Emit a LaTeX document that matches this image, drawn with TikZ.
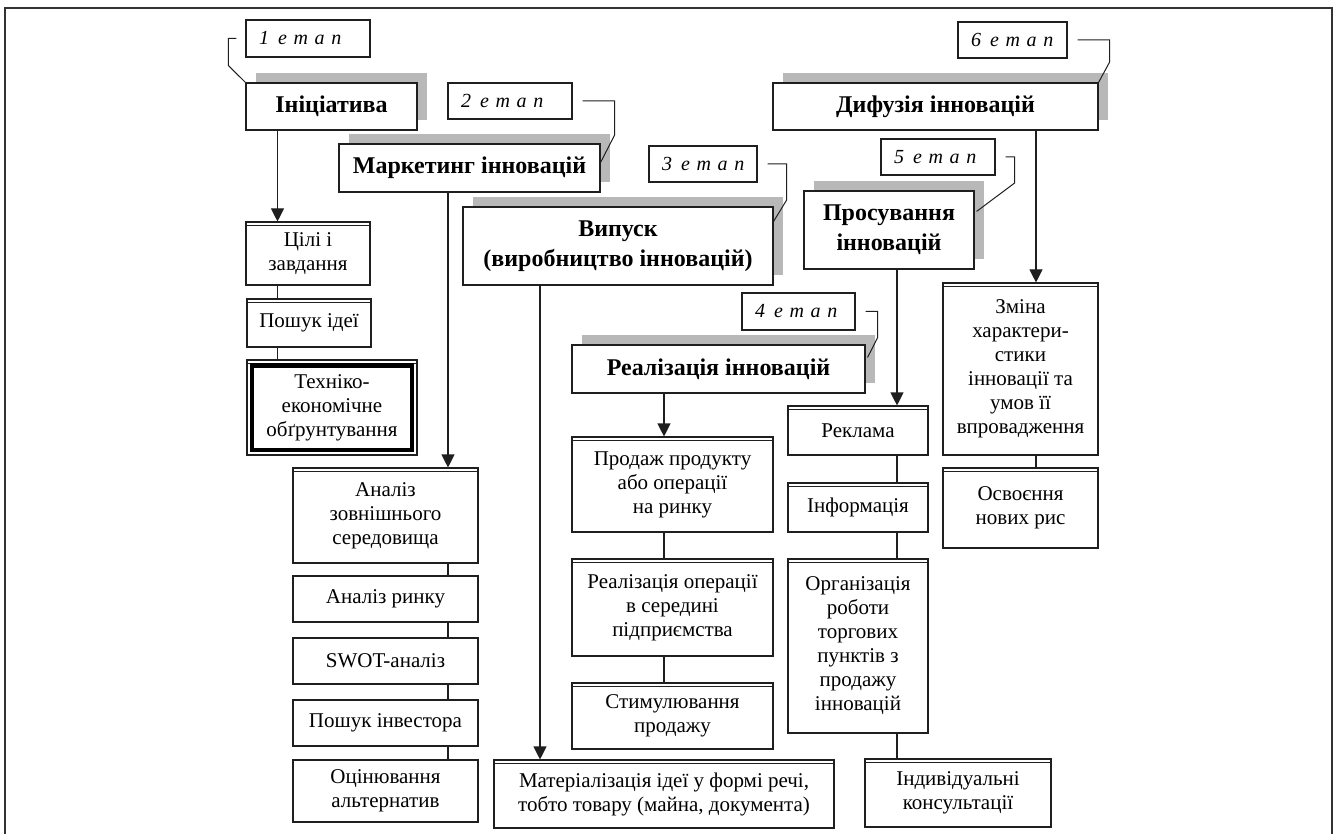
\documentclass[tikz,border=0pt]{standalone}
\usepackage{fontspec}
\setmainfont{Liberation Serif}
\usetikzlibrary{arrows.meta,shadows,calc}
\definecolor{shadegray}{gray}{0.72}
\definecolor{ink}{gray}{0.12}
\tikzset{
  box/.style={draw=ink, line width=1.1pt, fill=white, inner sep=0pt, align=center,
    font=\fontsize{21}{24}\selectfont},
  stage/.style={box, font=\fontsize{24}{30}\selectfont\bfseries,
    drop shadow={shadow xshift=10pt, shadow yshift=10pt, fill=shadegray, opacity=1}},
  etap/.style={draw=ink, line width=1.3pt, fill=white, inner ysep=0pt, inner xsep=13pt,
    align=left, font=\fontsize{20}{24}\selectfont\itshape},
  dtop/.style={path picture={\draw[line width=1pt,ink]
    ([yshift=-3.5pt]path picture bounding box.north west) --
    ([yshift=-3.5pt]path picture bounding box.north east);}},
  conn/.style={draw=ink, line width=1.1pt},
  arr/.style={conn, -{Triangle[length=13pt,width=13pt]}},
  brk/.style={draw=ink, line width=1pt},
}
\newcommand\Bx[7][]{%
  \pgfmathsetmacro\bw{#5-#3}%
  \pgfmathsetmacro\bh{#6-#4}%
  \node[box,#1,minimum width=\bw pt,minimum height=\bh pt] (#2) at ({(#3+#5)/2},{(#4+#6)/2}) {#7};}
\newcommand\Et[6]{%
  \pgfmathsetmacro\bw{#4-#2}%
  \pgfmathsetmacro\tw{#4-#2-26}%
  \pgfmathsetmacro\bh{#5-#3}%
  \node[etap,minimum width=\bw pt,text width=\tw pt,minimum height=\bh pt] (#1) at ({(#2+#4)/2},{(#3+#5)/2}) {\mbox{#6}};}
\begin{document}
\begin{tikzpicture}[x=1pt,y=-1pt]
\useasboundingbox (0,0) rectangle (1336,834);
\fill[white] (0,0) rectangle (1336,834);
\draw[line width=2.5pt, black!80] (5,850) -- (5,8) -- (1332,8) -- (1332,850);

% stage boxes
\Bx[stage]{ini}{246}{83}{417}{130}{Ініціатива}
\Bx[stage]{mark}{339}{144}{600}{192}{Маркетинг інновацій}
\Bx[stage]{vyp}{463}{207}{773}{285}{Випуск\\(виробництво інновацій)}
\Bx[stage]{dyf}{773}{83}{1098}{130}{Дифузія інновацій}
\Bx[stage]{pros}{804}{191}{974}{269}{Просування\\інновацій}
\Bx[stage]{real}{572}{345}{865}{393}{Реалізація інновацій}

% stage labels
\Et{e1}{246}{20}{370}{57}{1\hspace{9pt}е т а п}
\Et{e2}{448}{83}{572}{119}{2\hspace{9pt}е т а п}
\Et{e3}{649}{146}{757}{182}{3\hspace{9pt}е т а п}
\Et{e6}{958}{22}{1067}{58}{6\hspace{9pt}е т а п}
\Et{e5}{881}{139}{995}{175}{5\hspace{9pt}е т а п}
\Et{e4}{742}{293}{855}{330}{4\hspace{9pt}е т а п}

% column 1
\Bx[dtop]{cil}{246}{222}{370}{285}{Цілі і\\завдання}
\Bx[dtop]{posh}{247}{299}{371}{347}{Пошук ідеї}
\Bx[dtop]{tek}{247}{360}{417}{455}{Техніко-\\економічне\\обґрунтування}
\draw[line width=4.5pt, black] ([xshift=5.5pt,yshift=-6pt]tek.north west) rectangle ([xshift=-5.5pt,yshift=5.5pt]tek.south east);

% column 2
\Bx[dtop]{az}{293}{468}{478}{563}{Аналіз\\зовнішнього\\середовища}
\Bx{ar}{293}{576}{478}{622}{Аналіз ринку}
\Bx{swot}{293}{638}{478}{684}{SWOT-аналіз}
\Bx{pi}{293}{700}{478}{746}{Пошук інвестора}
\Bx{oc}{293}{760}{478}{822}{Оцінювання\\альтернатив}

% middle
\Bx[dtop]{mat}{494}{760}{834}{828}{Матеріалізація ідеї у формі речі,\\тобто товару (майна, документа)}
\Bx[dtop]{prod}{572}{437}{773}{532}{Продаж продукту\\або операції\\на ринку}
\Bx[dtop]{ro}{572}{559}{773}{656}{Реалізація операції\\в середині\\підприємства}
\Bx[dtop]{stim}{572}{683}{773}{749}{Стимулювання\\продажу}

% promotion column
\Bx[dtop]{rek}{788}{406}{928}{455}{Реклама}
\Bx[dtop]{inf}{788}{483}{928}{532}{Інформація}
\Bx[dtop]{org}{788}{559}{928}{733}{Організація\\роботи\\торгових\\пунктів з\\продажу\\інновацій}
\Bx[dtop]{ind}{865}{759}{1051}{827}{Індивідуальні\\консультації}

% diffusion column
\Bx[dtop]{zm}{943}{283}{1098}{455}{Зміна\\характери-\\стики\\інновації та\\умов її\\впровадження}
\Bx[dtop]{osv}{943}{468}{1098}{548}{Освоєння\\нових рис}

% connector columns
\coordinate (X1) at (277.5,0);
\coordinate (X2) at (448,0);
\coordinate (X3) at (540,0);
\coordinate (X4) at (664,0);
\coordinate (X5) at (897,0);
\coordinate (X6) at (1036,0);

\draw[arr] (ini.south -| X1) -- (cil.north -| X1);
\draw[conn] (cil.south -| X1) -- (posh.north -| X1);
\draw[conn] (posh.south -| X1) -- (tek.north -| X1);

\draw[arr] (mark.south -| X2) -- (az.north -| X2);
\draw[conn] (az.south -| X2) -- (ar.north -| X2);
\draw[conn] (ar.south -| X2) -- (swot.north -| X2);
\draw[conn] (swot.south -| X2) -- (pi.north -| X2);
\draw[conn] (pi.south -| X2) -- (oc.north -| X2);

\draw[arr] (vyp.south -| X3) -- (mat.north -| X3);

\draw[arr] (real.south -| X4) -- (prod.north -| X4);
\draw[conn] (prod.south -| X4) -- (ro.north -| X4);
\draw[conn] (ro.south -| X4) -- (stim.north -| X4);

\draw[arr] (pros.south -| X5) -- (rek.north -| X5);
\draw[conn] (rek.south -| X5) -- (inf.north -| X5);
\draw[conn] (inf.south -| X5) -- (org.north -| X5);
\draw[conn] (org.south -| X5) -- (ind.north -| X5);

\draw[arr] (dyf.south -| X6) -- (zm.north -| X6);
\draw[conn] (zm.south -| X6) -- (osv.north -| X6);

% stage label brackets
\draw[brk] ([xshift=-9pt]e1.west) -- ++(-8,0) -- ++(0,27) -- (ini.north west);
\draw[brk] ([xshift=10pt]e2.east) -- ++(32,0) -- ++(0,34) -- ([yshift=-19pt]mark.north east);
\draw[brk] ([xshift=10pt]e3.east) -- ++(19,0) -- ++(0,36) -- ([yshift=-15pt]vyp.north east);
\draw[brk] ([xshift=10pt]e6.east) -- ++(32,0) -- ++(0,22) -- (dyf.north east);
\draw[brk] ([xshift=10pt]e5.east) -- ++(9,0) -- ++(0,26) -- ([xshift=2pt,yshift=-21pt]pros.north east);
\draw[brk] ([xshift=10pt]e4.east) -- ++(12,0) -- ++(0,26) -- ([xshift=2pt,yshift=-13pt]real.north east);
\end{tikzpicture}
\end{document}
